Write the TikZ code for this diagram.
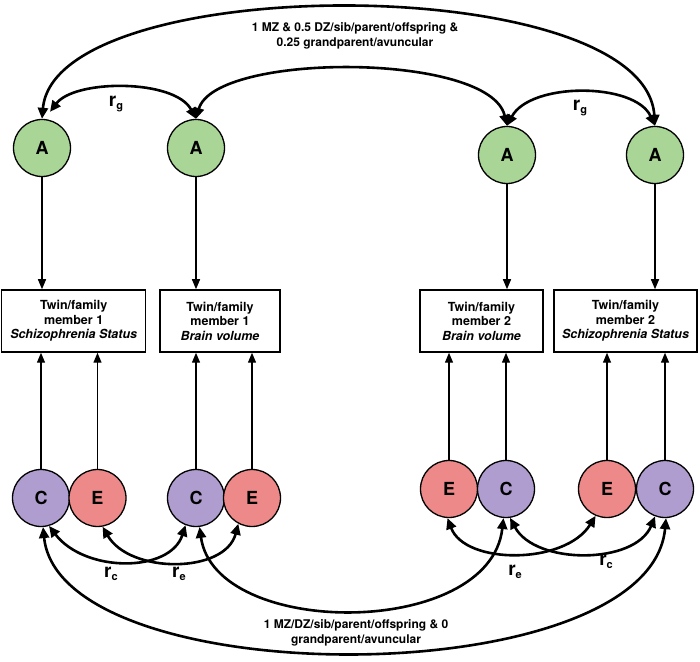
\documentclass[tikz,border=0pt]{standalone}
\usepackage{fontspec}
\setmainfont{TeX Gyre Heros}
\usepackage{tikz}
\usetikzlibrary{arrows.meta,positioning}

\definecolor{agreen}{RGB}{169,214,150}
\definecolor{cpurple}{RGB}{175,157,207}
\definecolor{ered}{RGB}{238,137,137}

\begin{document}
\begin{tikzpicture}[x=1pt,y=1pt,
    latent/.style={circle,draw,line width=1.3pt,minimum size=57pt,inner sep=0pt,font=\fontsize{18}{18}\selectfont\bfseries},
    measure/.style={draw,line width=1.5pt,minimum height=62pt,inner sep=0pt,align=center,font=\fontsize{12.5}{14.5}\selectfont\bfseries},
    load/.style={line width=1.4pt,-{Triangle[length=10pt,width=8pt]}},
    corr/.style={line width=2.6pt,{Triangle[length=11pt,width=10pt]}-{Triangle[length=11pt,width=10pt]}},
    coef/.style={font=\fontsize{19}{19}\selectfont\bfseries},
    note/.style={align=center,font=\fontsize{12}{15}\selectfont\bfseries}
]
    \useasboundingbox (0,0) rectangle (700,661);

    \node[latent,fill=agreen] (A1) at (42,513) {A};
    \node[latent,fill=agreen] (A2) at (196,513) {A};
    \node[latent,fill=agreen] (A3) at (507,506) {A};
    \node[latent,fill=agreen] (A4) at (655,506) {A};

    \node[measure,minimum width=144pt] (box1) at (73.7,340) {Twin/family\\member 1\\\textit{Schizophrenia Status}};
    \node[measure,minimum width=120pt] (box2) at (220,340) {Twin/family\\member 1\\\textit{Brain volume}};
    \node[measure,minimum width=123pt] (box3) at (481.5,340) {Twin/family\\member 2\\\textit{Brain volume}};
    \node[measure,minimum width=143pt] (box4) at (625.5,340) {Twin/family\\member 2\\\textit{Schizophrenia Status}};

    \node[latent,fill=cpurple] (C1) at (41,163) {C};
    \node[latent,fill=ered] (E1) at (97.5,163) {E};
    \node[latent,fill=cpurple] (C2) at (196,163) {C};
    \node[latent,fill=ered] (E2) at (252,163) {E};
    \node[latent,fill=ered] (E3) at (449,172) {E};
    \node[latent,fill=cpurple] (C3) at (506,172) {C};
    \node[latent,fill=ered] (E4) at (607,172) {E};
    \node[latent,fill=cpurple] (C4) at (665,172) {C};

    \draw[load] (A1) -- (A1 |- box1.north);
    \draw[load] (A2) -- (A2 |- box2.north);
    \draw[load] (A3) -- (A3 |- box3.north);
    \draw[load] (A4) -- (A4 |- box4.north);

    \draw[load] (C1) -- (C1 |- box1.south);
    \draw[load] (E1) -- (E1 |- box1.south);
    \draw[load] (C2) -- (C2 |- box2.south);
    \draw[load] (E2) -- (E2 |- box2.south);
    \draw[load] (E3) -- (E3 |- box3.south);
    \draw[load] (C3) -- (C3 |- box3.south);
    \draw[load] (E4) -- (E4 |- box4.south);
    \draw[load] (C4) -- (C4 |- box4.south);

    \draw[corr] (A1.north) .. controls (55,691) and (645,691) .. (A4.north);
    \draw[corr] (A2.north) .. controls (215,609) and (490,609) .. (A3.north);
    \draw[corr] ([xshift=8pt,yshift=7pt]A1.north) .. controls (75,582) and (175,582) .. (A2.north);
    \draw[corr] (A3.north) .. controls (530,579) and (635,579) .. (A4.north);

    \draw[corr] (C1.-74) .. controls (85,88) and (170,88) .. (C2.-111);
    \draw[corr] (E1.-80) .. controls (130,87) and (225,87) .. (E2.-118);
    \draw[corr] (C2.-83) .. controls (215,22) and (490,22) .. (C3.-95);
    \draw[corr] (C1.-86) .. controls (60,-34) and (650,-34) .. (C4.-88);
    \draw[corr] (E3.-93) .. controls (465,96) and (565,96) .. (E4.-113);
    \draw[corr] (C3.-82) .. controls (535,96) and (635,96) .. (C4.-110);

    \node[coef] (rgl) at (116,557) {r\raisebox{-3pt}{\fontsize{11}{11}\selectfont g}};
    \node[coef] (rgr) at (580,553) {r\raisebox{-3pt}{\fontsize{11}{11}\selectfont g}};
    \node[coef] (rcl) at (111,87) {r\raisebox{-3pt}{\fontsize{11}{11}\selectfont c}};
    \node[coef] (rel) at (179,87) {r\raisebox{-3pt}{\fontsize{11}{11}\selectfont e}};
    \node[coef] (rer) at (515,89) {r\raisebox{-3pt}{\fontsize{11}{11}\selectfont e}};
    \node[coef] (rcr) at (606,99) {r\raisebox{-3pt}{\fontsize{11}{11}\selectfont c}};

    \node[note] (topnote) at (355,625.5) {1 MZ \& 0.5 DZ/sib/parent/offspring \&\\0.25 grandparent/avuncular};
    \node[note] (botnote) at (356,28) {1 MZ/DZ/sib/parent/offspring \& 0\\grandparent/avuncular};
\end{tikzpicture}
\end{document}
